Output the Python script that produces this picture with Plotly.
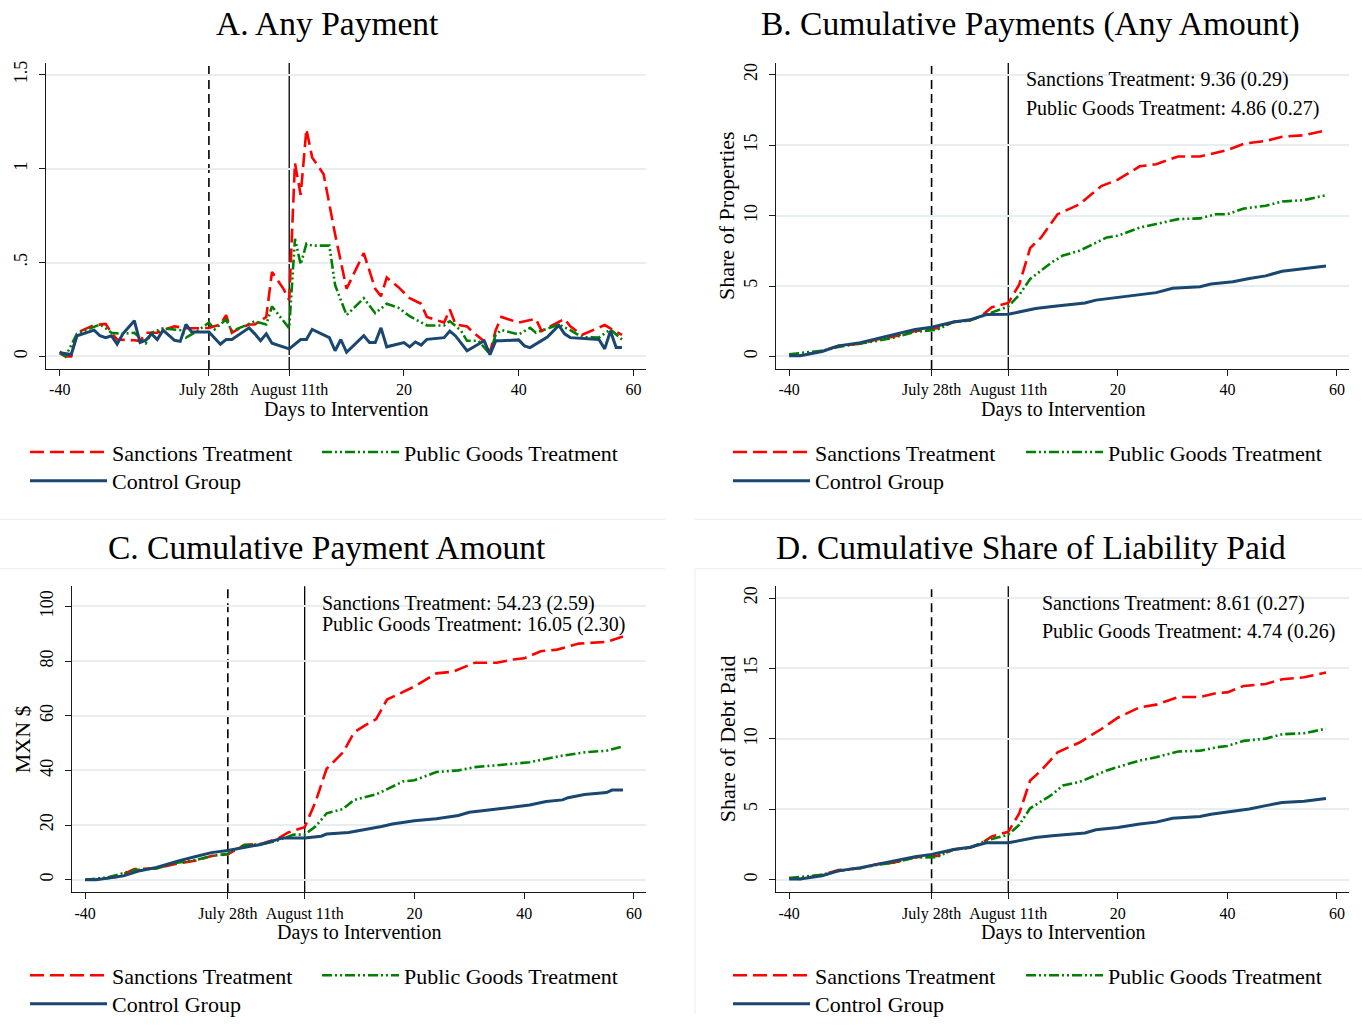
import plotly.graph_objects as go

W, H = 1362, 1025
SERIF = "Liberation Serif"

# ---------------- Data (x = days relative to August 11th) ----------------
# Panel A: any payment (daily share paying)
a_days_sanc = [-40, -39, -38, -37, -36, -34, -32, -31, -30, -28, -27, -26, -25, -23, -22,
               -20, -18, -16, -14, -12, -11, -10, -9, -7, -6, -4, -3, -1, 0, 1,
               2, 3, 4, 6, 8, 10, 13, 15, 16, 17, 19, 21, 23, 24, 27,
               28, 29, 31, 32, 34, 35, 36, 37, 40, 43, 44, 48, 49, 51, 55, 58]
a_sanc = [0.016, 0.0, 0.0, 0.126, 0.14, 0.167, 0.173, 0.126, 0.09, 0.09, 0.086, 0.082, 0.126, 0.126, 0.14,
          0.16, 0.15, 0.15, 0.152, 0.17, 0.22, 0.126, 0.144, 0.17, 0.17, 0.21, 0.45, 0.36, 0.30, 1.03,
          0.86, 1.21, 1.06, 0.97, 0.65, 0.36, 0.55, 0.36, 0.32, 0.42, 0.37, 0.31, 0.28, 0.21, 0.18,
          0.25, 0.17, 0.16, 0.13, 0.08, 0.02, 0.14, 0.21, 0.18, 0.2, 0.135, 0.2, 0.16, 0.114, 0.167, 0.114]

a_days_pub = [-40, -39, -37, -33, -32, -31, -29, -27, -25, -24, -22, -19, -18, -16, -14,
              -13, -11, -10, -8, -6, -4, -3, 0, 1, 2, 3, 4, 7, 8, 10,
              13, 15, 17, 19, 21, 24, 27, 28, 30, 31, 33, 35, 36, 37, 40,
              42, 43, 47, 49, 51, 54, 56, 58]
a_pub = [0.026, 0.0, 0.12, 0.17, 0.15, 0.126, 0.12, 0.126, 0.07, 0.126, 0.15, 0.14, 0.1, 0.135, 0.18,
         0.144, 0.196, 0.135, 0.16, 0.187, 0.17, 0.266, 0.15, 0.626, 0.49, 0.6, 0.59, 0.59, 0.38, 0.22,
         0.31, 0.23, 0.28, 0.26, 0.214, 0.165, 0.165, 0.188, 0.135, 0.083, 0.083, 0.012, 0.117, 0.14, 0.117,
         0.152, 0.126, 0.17, 0.14, 0.103, 0.1, 0.144, 0.09]

a_days_ctrl = [-40, -38, -37, -34, -33, -32, -31, -30, -29, -27, -26, -25, -24, -23, -22,
               -20, -19, -18, -17, -16, -14, -12, -11, -10, -7, -6, -5, -4, -3, 0,
               2, 3, 4, 7, 8, 9, 10, 13, 14, 15, 16, 17, 20, 21, 22,
               23, 24, 27, 28, 29, 31, 34, 35, 36, 37, 40, 41, 42, 45, 47,
               48, 49, 52, 54, 55, 56, 57, 58]
a_ctrl = [0.02, 0.01, 0.11, 0.14, 0.11, 0.10, 0.11, 0.065, 0.12, 0.19, 0.074, 0.086, 0.12, 0.09, 0.14,
          0.086, 0.08, 0.17, 0.13, 0.13, 0.13, 0.065, 0.09, 0.09, 0.152, 0.12, 0.084, 0.12, 0.07, 0.04,
          0.09, 0.09, 0.144, 0.1, 0.03, 0.09, 0.022, 0.11, 0.074, 0.074, 0.152, 0.051, 0.074, 0.051, 0.077,
          0.06, 0.091, 0.1, 0.135, 0.109, 0.03, 0.083, 0.009, 0.083, 0.083, 0.088, 0.056, 0.047, 0.103, 0.165,
          0.12, 0.1, 0.096, 0.09, 0.04, 0.135, 0.047, 0.047]

# Panel B: cumulative payments (share of properties)
b_days_sanc = [-40, -38, -34, -31, -27, -24, -21, -17, -13, -10, -7, -5, -3, 0, 2, 4,
               6, 9, 13, 17, 20, 24, 27, 31, 35, 38, 40, 43, 47, 50, 54, 58]
b_sanc = [0.12, 0.05, 0.4, 0.75, 0.9, 1.2, 1.4, 1.8, 2.0, 2.45, 2.57, 2.85, 3.5, 3.8, 5.1, 7.7,
          8.45, 10.1, 10.8, 12.1, 12.55, 13.5, 13.65, 14.2, 14.2, 14.5, 14.65, 15.1, 15.3, 15.6, 15.7, 16.05]
b_days_pub = [-40, -34, -31, -27, -24, -21, -17, -13, -10, -7, -4, 0, 2, 4, 8,
              10, 13, 18, 20, 24, 27, 31, 35, 38, 40, 43, 47, 50, 54, 58]
b_pub = [0.16, 0.4, 0.68, 0.9, 1.1, 1.33, 1.75, 1.9, 2.45, 2.55, 2.97, 3.55, 4.37, 5.5, 6.7,
         7.17, 7.5, 8.45, 8.57, 9.15, 9.4, 9.75, 9.8, 10.1, 10.1, 10.5, 10.7, 11.0, 11.1, 11.45]
b_days_ctrl = [-40, -38, -34, -31, -27, -24, -21, -17, -14, -10, -7, -4, 0, 2, 5, 8,
               12, 14, 16, 20, 24, 27, 30, 35, 37, 41, 44, 47, 50, 54, 58]
b_ctrl = [0.05, 0.05, 0.35, 0.75, 0.98, 1.26, 1.52, 1.92, 2.08, 2.45, 2.6, 2.97, 3.0, 3.15, 3.4, 3.55,
          3.7, 3.8, 4.0, 4.18, 4.4, 4.53, 4.84, 4.95, 5.14, 5.3, 5.54, 5.72, 6.05, 6.24, 6.43]

# Panel C: cumulative payment amount (MXN $)
c_days_sanc = [-40, -38, -34, -31, -27, -23, -20, -17, -14, -11, -8, -5, -3, 0, 2, 4, 7,
               9, 11, 13, 15, 18, 20, 24, 27, 31, 35, 38, 40, 43, 46, 50, 55, 58]
c_sanc = [0, 0, 1.1, 3.9, 4.2, 6.0, 6.9, 8.7, 9.3, 12.7, 13.1, 14.9, 17.3, 19.2, 28.6, 40.6, 46.6,
          53.9, 56.5, 58.7, 65.9, 68.9, 70.7, 75.5, 76.1, 79.4, 79.4, 80.6, 81, 83.6, 84.2, 86.4, 87, 89]
c_days_pub = [-40, -36, -31, -27, -23, -20, -17, -14, -11, -8, -5, -2, 0, 2, 4, 7,
              9, 13, 18, 20, 24, 28, 31, 35, 38, 41, 44, 47, 51, 55, 58]
c_pub = [0, 0.8, 3.5, 4.1, 6.3, 7.1, 8.7, 9.5, 12.7, 12.9, 14.3, 16.5, 16.5, 19.5, 24.3, 25.9,
         29.2, 31.2, 36, 36.4, 39.4, 40, 41.2, 41.8, 42.4, 43, 44.2, 45.4, 46.6, 47.2, 48.8]
c_days_ctrl = [-40, -38, -33, -30, -27, -23, -20, -17, -14, -11, -8, -4, 0, 3, 4, 8, 10,
               14, 16, 20, 24, 28, 30, 35, 38, 41, 44, 47, 48, 51, 55, 56, 58]
c_ctrl = [0, 0, 1.4, 3.3, 4.5, 6.9, 8.4, 9.9, 10.7, 11.9, 12.9, 15.3, 15.3, 15.9, 16.7, 17.3, 18,
          19.5, 20.4, 21.6, 22.3, 23.5, 24.7, 25.8, 26.4, 27.3, 28.6, 29.2, 30, 31.2, 31.9, 32.8, 32.8]

# Panel D: cumulative share of liability paid
d_days_sanc = [-40, -38, -34, -31, -27, -24, -21, -17, -13, -10, -7, -5, -3, 0, 2, 4,
               6, 9, 13, 17, 20, 24, 27, 31, 35, 38, 40, 43, 47, 50, 54, 58]
d_sanc = [0.12, 0.05, 0.35, 0.68, 0.82, 1.1, 1.2, 1.6, 1.68, 2.15, 2.27, 2.55, 3.08, 3.4, 4.7, 7.05,
          7.75, 9.05, 9.74, 10.7, 11.5, 12.24, 12.43, 12.97, 12.97, 13.25, 13.3, 13.76, 13.9, 14.23, 14.37, 14.72]
d_days_pub = [-40, -34, -31, -27, -24, -21, -17, -13, -10, -7, -4, 0, 2, 4, 8,
              10, 13, 18, 20, 24, 27, 31, 35, 38, 40, 43, 47, 50, 54, 58]
d_pub = [0.12, 0.35, 0.63, 0.82, 1.05, 1.21, 1.57, 1.61, 2.15, 2.27, 2.78, 3.2, 3.9, 5.07, 6.05,
         6.7, 6.94, 7.76, 8.0, 8.46, 8.7, 9.1, 9.16, 9.4, 9.5, 9.86, 10.02, 10.33, 10.4, 10.72]
d_days_ctrl = [-40, -38, -34, -31, -27, -24, -21, -17, -14, -10, -7, -4, 0, 2, 5, 8,
               12, 14, 16, 20, 24, 27, 30, 35, 37, 41, 44, 47, 50, 54, 58]
d_ctrl = [0.05, 0.05, 0.28, 0.63, 0.86, 1.1, 1.33, 1.64, 1.8, 2.15, 2.31, 2.62, 2.62, 2.78, 3.0, 3.13,
          3.25, 3.32, 3.55, 3.71, 3.95, 4.09, 4.37, 4.49, 4.65, 4.84, 5.02, 5.26, 5.49, 5.58, 5.77]

# Axis ticks and labels
x_tickvals = [-40, -14, 0, 20, 40, 60]
x_ticktext = ["-40", "July 28th", "August 11th", "20", "40", "60"]
event_days = [-14, 0]          # July 28th (dashed) and August 11th (solid)

panel_titles = ["A. Any Payment", "B. Cumulative Payments (Any Amount)",
                "C. Cumulative Payment Amount", "D. Cumulative Share of Liability Paid"]
y_titles = ["", "Share of Properties", "MXN $", "Share of Debt Paid"]
y_tickvals = [[0, 0.5, 1, 1.5], [0, 5, 10, 15, 20], [0, 20, 40, 60, 80, 100], [0, 5, 10, 15, 20]]
y_ticktext = [["0", ".5", "1", "1.5"], ["0", "5", "10", "15", "20"],
              ["0", "20", "40", "60", "80", "100"], ["0", "5", "10", "15", "20"]]

effect_labels = [None,
                 ["Sanctions Treatment: 9.36 (0.29)", "Public Goods Treatment: 4.86 (0.27)"],
                 ["Sanctions Treatment: 54.23 (2.59)", "Public Goods Treatment: 16.05 (2.30)"],
                 ["Sanctions Treatment: 8.61 (0.27)", "Public Goods Treatment: 4.74 (0.26)"]]

series_names = ["Sanctions Treatment", "Public Goods Treatment", "Control Group"]
panel_series = [
    [(a_days_sanc, a_sanc), (a_days_pub, a_pub), (a_days_ctrl, a_ctrl)],
    [(b_days_sanc, b_sanc), (b_days_pub, b_pub), (b_days_ctrl, b_ctrl)],
    [(c_days_sanc, c_sanc), (c_days_pub, c_pub), (c_days_ctrl, c_ctrl)],
    [(d_days_sanc, d_sanc), (d_days_pub, d_pub), (d_days_ctrl, d_ctrl)],
]

# ---------------- Styling ----------------
RED, GREEN, NAVY = "#FF0000", "#008000", "#1A476F"
line_styles = [
    dict(color=RED, width=2.6, dash="14px,6px"),
    dict(color=GREEN, width=2.6, dash="10px,3px,2px,3px,2px,3px"),
    dict(color=NAVY, width=3.0, dash="solid"),
]
GRID = "#E6EEF1"
AXIS = "#1a1a1a"


def fx(px):
    return px / W


def fy(py):
    return 1 - py / H


# Pixel geometry of each panel's plot region: (left, right, top, bottom)
plot_boxes = [(46, 646, 61.7, 371.7), (776, 1349, 61.7, 371.7),
              (72, 646, 591.7, 901.7), (776, 1349, 591.7, 901.7)]
y_ranges = [[-0.067, 1.563], [-0.89, 20.84], [-4.6, 107.4], [-0.89, 20.84]]
x_range = [-42.4, 62.2]

title_pos = [(327, 22), (1030, 22), (327, 553), (1031, 553)]
ytitle_pos = [None, (727, 216.7), (22, 746.7), (727, 746.7)]
effect_pos = [None, (1024, 79, 108), (320, 609, 631), (1040, 609, 638)]
# legend: (key x start for first column, key x start for second column, row1 y, row2 y)
legend_pos = [(30, 322, 453, 482), (733, 1026, 453, 482),
              (30, 322, 983, 1012), (733, 1026, 983, 1012)]

fig = go.Figure()
layout = dict(
    width=W, height=H, autosize=False, margin=dict(l=0, r=0, t=0, b=0, pad=0),
    paper_bgcolor="white", plot_bgcolor="white",
    font=dict(family=SERIF, color="black"),
    showlegend=True,
)
annotations = []
shapes = []

for p in range(4):
    sfx = "" if p == 0 else str(p + 1)
    xa, ya = "x" + sfx, "y" + sfx
    left, right, top, bottom = plot_boxes[p]

    layout["xaxis" + sfx] = dict(
        domain=[fx(left), fx(right)], anchor=ya, range=x_range,
        tickmode="array", tickvals=x_tickvals, ticktext=x_ticktext,
        ticks="outside", ticklen=6, tickwidth=1.3, tickcolor=AXIS,
        showline=True, linecolor=AXIS, linewidth=1.3,
        showgrid=False, zeroline=False,
        tickfont=dict(family=SERIF, size=16, color="black"),
    )
    layout["yaxis" + sfx] = dict(
        domain=[fy(bottom), fy(top)], anchor=xa, range=y_ranges[p],
        tickmode="array", tickvals=y_tickvals[p], ticktext=y_ticktext[p],
        ticks="outside", ticklen=6, tickwidth=1.3, tickcolor=AXIS,
        showline=True, linecolor=AXIS, linewidth=1.3,
        showgrid=True, gridcolor=GRID, gridwidth=2,
        zeroline=False, tickangle=-90, ticklabelstandoff=5,
        tickfont=dict(family=SERIF, size=18, color="black"),
    )

    # event reference lines
    for d in event_days:
        shapes.append(dict(
            type="line", xref=xa, yref=ya + " domain", x0=d, x1=d, y0=0, y1=1,
            line=dict(color="black", width=1.6 if d != 0 else 1.3,
                      dash="9px,5px" if d != 0 else "solid"),
            layer="below"))

    # series
    key1, key2, row1, row2 = legend_pos[p]
    legend_slots = [(key1, row1), (key2, row1), (key1, row2)]
    for s, (days, vals) in enumerate(panel_series[p]):
        lname = "legend" if (3 * p + s) == 0 else "legend" + str(3 * p + s + 1)
        fig.add_trace(go.Scatter(
            x=days, y=vals, mode="lines", name=series_names[s],
            line=line_styles[s], xaxis=xa, yaxis=ya, legend=lname,
            hoverinfo="skip",
        ))
        kx, ky = legend_slots[s]
        layout[lname] = dict(
            x=fx(kx - 5), y=fy(ky + 3), xanchor="left", yanchor="middle",
            orientation="h", bgcolor="rgba(0,0,0,0)", borderwidth=0,
            itemwidth=77, itemclick=False, itemdoubleclick=False,
            font=dict(family=SERIF, size=22, color="black"),
        )

    # panel title
    tx, ty = title_pos[p]
    annotations.append(dict(
        text=panel_titles[p], xref="paper", yref="paper", x=fx(tx), y=fy(ty),
        xanchor="center", yanchor="middle", showarrow=False,
        font=dict(family=SERIF, size=33.5, color="black")))

    # x axis title
    annotations.append(dict(
        text="Days to Intervention", xref="paper", yref="paper",
        x=fx((left + right) / 2), y=fy(bottom + 41), xanchor="center", yanchor="middle",
        showarrow=False, font=dict(family=SERIF, size=20, color="black")))

    # y axis title
    if ytitle_pos[p]:
        yx, yy = ytitle_pos[p]
        annotations.append(dict(
            text=y_titles[p], xref="paper", yref="paper", x=fx(yx), y=fy(yy),
            xanchor="center", yanchor="middle", textangle=-90, showarrow=False,
            font=dict(family=SERIF, size=22, color="black")))

    # treatment effect text
    if effect_labels[p]:
        ex, ey1, ey2 = effect_pos[p]
        for txt, ey in zip(effect_labels[p], (ey1, ey2)):
            annotations.append(dict(
                text=txt, xref="paper", yref="paper", x=fx(ex), y=fy(ey),
                xanchor="left", yanchor="middle", showarrow=False,
                font=dict(family=SERIF, size=20, color="black")))

# faint borders between the sub-graph regions
border = dict(color="#EDEDED", width=1)
for y in (524, 574):
    shapes.append(dict(type="line", xref="paper", yref="paper",
                       x0=0, x1=fx(665), y0=fy(y), y1=fy(y), line=border))
    shapes.append(dict(type="line", xref="paper", yref="paper",
                       x0=fx(695), x1=1, y0=fy(y), y1=fy(y), line=border))
shapes.append(dict(type="line", xref="paper", yref="paper",
                   x0=fx(695), x1=fx(695), y0=fy(574), y1=0, line=border))

layout["annotations"] = annotations
layout["shapes"] = shapes
fig.update_layout(**layout)

fig.write_html("out.html", config={"responsive": False, "displayModeBar": False})
